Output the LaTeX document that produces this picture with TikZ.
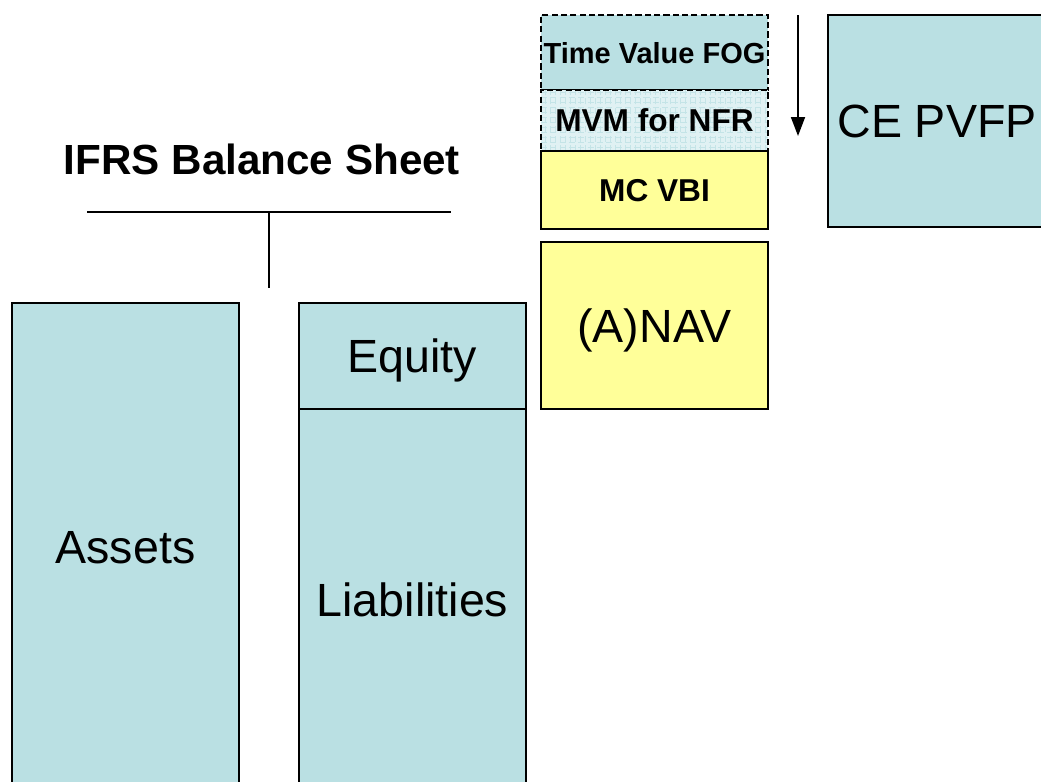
\documentclass[tikz,border=0pt]{standalone}
\usepackage{fontspec}
\setmainfont{Liberation Sans}
\usetikzlibrary{arrows.meta}

\definecolor{sheetblue}{RGB}{186,224,227}
\definecolor{paleblue}{RGB}{224,241,243}
\definecolor{gridblue}{RGB}{196,228,231}
\definecolor{navyellow}{RGB}{255,255,153}

\begin{document}
\begin{tikzpicture}[x=0.02cm,y=-0.02cm,
  box/.style={draw,line width=0.9pt,fill=sheetblue,minimum width=4.54cm,inner sep=0pt,text depth=0pt,font=\fontsize{26.5}{30}\selectfont},
  smallbox/.style={box,font=\bfseries\fontsize{18}{21}\selectfont},
  optbox/.style={smallbox,line width=1.1pt,dash pattern=on 3.5pt off 1.8pt}]
\useasboundingbox (0,0) rectangle (1041,781);
\clip (0,0) rectangle (1041,781);

% balance sheet
\node[font=\bfseries\fontsize{24}{28}\selectfont] (title) at (262,159) {IFRS Balance Sheet};
\coordinate (tl) at (87,212);
\coordinate (tr) at (451,212);
\coordinate (tm) at (269,212);
\coordinate (tb) at (269,288);
\draw[line width=1.1pt] (tl)--(tr);
\draw[line width=1.1pt] (tm)--(tb);

\node[box,minimum height=9.76cm] (A) at (125.5,547) {Assets};
\node[box,minimum height=2.12cm] (E) at (412.5,356) {Equity};
\node[box,minimum height=7.62cm] (L) at (412.5,599.5) {Liabilities};

% value stack
\node[optbox,minimum height=1.5cm,font=\bfseries\fontsize{16.5}{20}\selectfont] (FOG) at (654.5,52.5) {Time Value FOG};
\node[optbox,minimum height=1.22cm,fill=paleblue,
  path picture={\draw[gridblue,line width=0.3pt,step=0.1cm] (path picture bounding box.south west) grid (path picture bounding box.north east);}]
  (MVM) at (654.5,120.5) {MVM for NFR};
\node[smallbox,minimum height=1.56cm,fill=navyellow] (VBI) at (654.5,190) {MC VBI};
\node[box,minimum height=3.34cm,fill=navyellow] (NAV) at (654.5,325.5) {(A)NAV};

% run-off arrow
\coordinate (arrtop) at (798,15);
\coordinate (arrbot) at (798,136);
\draw[line width=1pt,-{Triangle[length=0.38cm,width=0.28cm]}] (arrtop)--(arrbot);

\node[box,minimum width=4.36cm,minimum height=4.24cm] (PVFP) at (937,121) {CE PVFP};
\end{tikzpicture}
\end{document}
